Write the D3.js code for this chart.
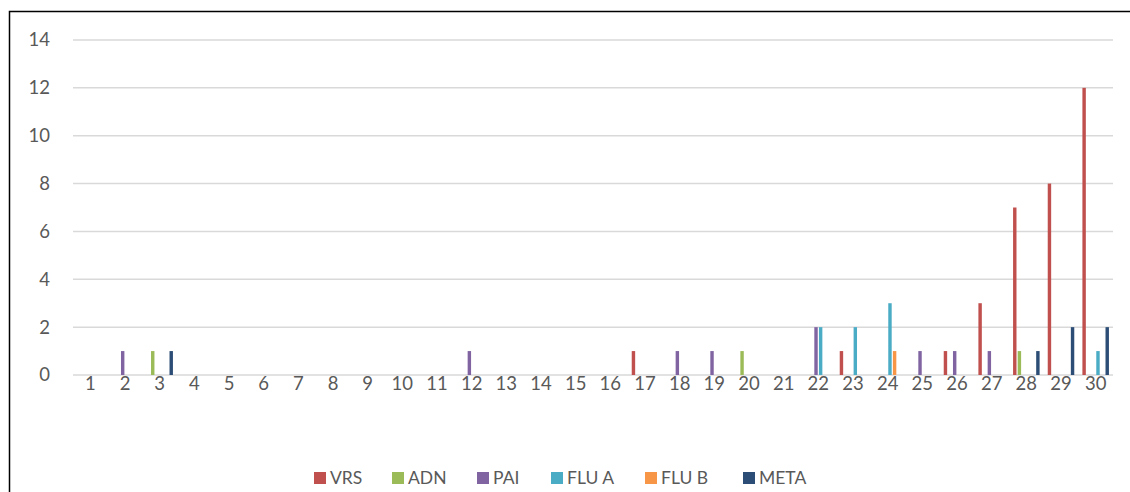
<!DOCTYPE html>
<html>
<head>
<meta charset="utf-8">
<script src="https://cdn.jsdelivr.net/npm/d3@7"></script>
<style>
  body { margin: 0; background: #fff; }
  svg text { font-family: Lato, "Open Sans", sans-serif; fill: #595959; }
</style>
</head>
<body>
<svg id="chart" width="1130" height="492"></svg>
<script>
const weeks = d3.range(1, 31).map(String);
const seriesNames = ["VRS", "ADN", "PAI", "FLU A", "FLU B", "META"];
const colors = ["#C0504D", "#9BBB59", "#8064A2", "#4BACC6", "#F79646", "#2C4D75"];
const yTicks = [0, 2, 4, 6, 8, 10, 12, 14];

// week -> count (only non-zero weeks)
const vrs  = { 17: 1, 23: 1, 26: 1, 27: 3, 28: 7, 29: 8, 30: 12 };
const adn  = { 3: 1, 20: 1, 28: 1 };
const pai  = { 2: 1, 12: 1, 18: 1, 19: 1, 22: 2, 25: 1, 26: 1, 27: 1 };
const fluA = { 22: 2, 23: 2, 24: 3, 30: 1 };
const fluB = { 24: 1 };
const meta = { 3: 1, 28: 1, 29: 2, 30: 2 };

const seriesData = [vrs, adn, pai, fluA, fluB, meta];

const svg = d3.select("#chart");
const plotL = 73, plotR = 1113, plotT = 40, plotB = 375;

const x = d3.scaleBand().domain(weeks).range([plotL, plotR]).paddingInner(0.2).paddingOuter(0.1);
const xs = d3.scaleBand().domain(seriesNames).range([0, x.bandwidth()]);
const y = d3.scaleLinear().domain([0, 14]).range([plotB, plotT]);

// outer border
svg.append("rect")
  .attr("x", 9.5).attr("y", 11.5)
  .attr("width", 1130).attr("height", 500)
  .attr("fill", "none").attr("stroke", "#000").attr("stroke-width", 1.5);

// gridlines
svg.append("g")
  .selectAll("line")
  .data(yTicks)
  .enter().append("line")
  .attr("x1", plotL).attr("x2", plotR)
  .attr("y1", d => y(d)).attr("y2", d => y(d))
  .attr("stroke", "#D9D9D9").attr("stroke-width", 1.5);

// y labels
svg.append("g")
  .selectAll("text")
  .data(yTicks)
  .enter().append("text")
  .attr("x", 50).attr("y", d => y(d))
  .attr("dy", "0.35em")
  .attr("text-anchor", "end")
  .attr("font-size", 18.5)
  .text(d => d);

// x labels
svg.append("g")
  .selectAll("text")
  .data(weeks)
  .enter().append("text")
  .attr("x", d => x(d) + x.bandwidth() / 2)
  .attr("y", 384)
  .attr("dy", "0.35em")
  .attr("text-anchor", "middle")
  .attr("font-size", 18.5)
  .text(d => d);

// bars
seriesNames.forEach((name, i) => {
  const vals = weeks
    .map(w => ({ w, v: seriesData[i][w] || 0 }))
    .filter(d => d.v > 0);
  svg.append("g")
    .selectAll("rect")
    .data(vals)
    .enter().append("rect")
    .attr("x", d => x(d.w) + xs(name) + 0.6)
    .attr("width", xs.bandwidth() - 1.2)
    .attr("y", d => y(d.v))
    .attr("height", d => y(0) - y(d.v))
    .attr("fill", colors[i]);
});

// legend
const legendX = [314, 392, 477, 551, 645, 743];
const lg = svg.append("g")
  .selectAll("g")
  .data(seriesNames)
  .enter().append("g")
  .attr("transform", (d, i) => `translate(${legendX[i]},472)`);
lg.append("rect").attr("width", 12).attr("height", 12)
  .attr("fill", (d, i) => colors[i]);
lg.append("text").attr("x", 16).attr("y", 6).attr("dy", "0.36em")
  .attr("font-size", 17.5).text(d => d);
</script>
</body>
</html>
